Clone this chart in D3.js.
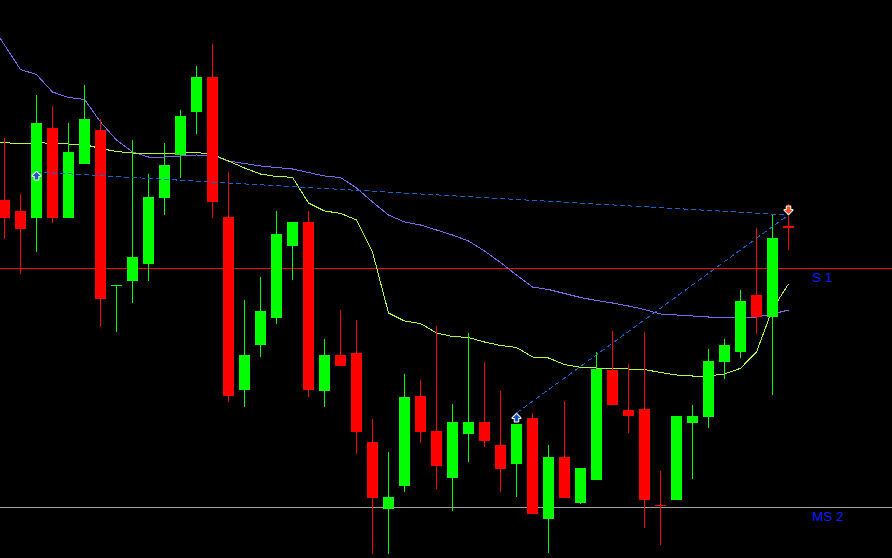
<!DOCTYPE html>
<html>
<head>
<meta charset="utf-8">
<script src="https://cdn.jsdelivr.net/npm/d3@7"></script>
<style>
  html, body { margin: 0; padding: 0; background: #000; overflow: hidden; }
  svg { display: block; }
</style>
</head>
<body>
<div id="container"></div>
<script>
// candlestick chart with two moving averages, two levels and a pattern drawn on top

// bar index -> open / high / low / close (price in chart points)
const opens  = [400, 389, 382, 472, 382, 436, 470, 314, 319, 336, 402, 445, 488, 523, 383, 210, 255, 282, 354, 378,
                209, 245, 247, 158,  91, 114, 204, 169, 122, 166, 178, 155, 136, 182,  81, 143,  97, 120, 230, 190,
                191, 95.5, 100, 177, 183, 238, 248, 305, 283, 374];
const highs  = [462, 406, 505, 494, 477, 515, 481, 315.5, 460, 426, 457, 490, 534, 556, 428, 300, 323, 389, 378, 389,
                261, 290, 280, 181, 148, 226, 220, 274, 196, 267, 238, 209, 176, 187, 155, 199, 132, 248, 269, 236,
                268, 129, 184, 195, 251, 261, 310, 372, 385, 396];
const lows   = [361, 326, 348, 377, 382, 436, 273, 268, 297, 319, 385, 422, 466, 382, 198, 193, 243, 276, 320, 203,
                193, 234, 146,  46,  46, 108, 157, 111,  89, 138, 153, 108, 103,  86,  47, 102,  96, 120, 195, 167,
                 72,  55, 100, 121, 172, 221, 242, 266, 205, 350];
const closes = [382, 371, 477, 382, 448, 481, 301, 315.5, 343, 403, 435, 484, 523, 398, 204, 245, 289, 366, 378, 210,
                245, 234, 168, 102, 103, 203, 168, 134, 178, 178, 159, 131, 176,  86, 143, 102, 132, 231, 195, 184,
                100, 94.5, 184, 184, 239, 255, 299, 283, 362, 373];

// moving averages, first value belongs to the bar just left of the window (index -1)
const maSlow = [580, 555, 530.5, 525.5, 508, 502.5, 500.5, 478, 460, 448, 443, 443, 444, 445, 444.5, 439, 436.5, 434, 432.5, 431,
                427.5, 424, 422.5, 412, 398, 385, 378, 375, 370, 365, 359, 349, 337.5, 325, 313, 310.5, 306.5, 302.5, 299.5, 297,
                294, 290.5, 286, 285, 284, 283, 283, 283, 283, 286, 290];
const maFast = [458, 457.5, 456, 457.5, 456.5, 456, 455.5, 451.5, 448.5, 447, 446, 446.5, 447, 447.5, 445.5, 439, 432, 426, 423.5, 422.7,
                397, 389, 386.7, 380, 348, 287, 279, 276.5, 267, 263.5, 262.5, 258, 254.5, 252.5, 243, 242, 235.5, 232.7, 232, 231.7,
                231, 230.5, 227.5, 225, 224, 224, 226, 231.7, 248, 291, 316];

// horizontal levels
const levelNames  = ["S 1", "MS 2"];
const levelPrices = [331.5, 92.5];
const levelColors = ["#ff0000", "#a0a0a0"];

// pattern points (bar index, price, direction) and the lines joining them
const signalBars   = [2, 32, 49];
const signalPrices = [424, 182, 390];
const signalDirs   = ["up", "up", "down"];
const trendLines   = [[2, 428, 49, 385], [32, 187, 49, 385]];

const width = 892,
      height = 558;

const x = d3.scaleLinear()
    .domain([0, 49])
    .range([4.5, 788.5]);

const y = d3.scaleLinear()
    .domain([42, 600])
    .range([558, 0]);

const svg = d3.select("#container").append("svg")
    .attr("width", width)
    .attr("height", height);

svg.append("rect")
    .attr("width", width)
    .attr("height", height)
    .attr("fill", "#000");

svg.append("clipPath").attr("id", "plot")
  .append("rect")
    .attr("width", width)
    .attr("height", height);

const plot = svg.append("g").attr("clip-path", "url(#plot)");

// level lines
plot.append("g").selectAll("line")
    .data(levelPrices)
    .enter().append("line")
    .attr("x1", 0)
    .attr("x2", width)
    .attr("y1", d => y(d))
    .attr("y2", d => y(d))
    .attr("stroke", (d, i) => levelColors[i])
    .attr("stroke-width", 1)
    .attr("shape-rendering", "crispEdges");

// moving averages
const maLine = d3.line()
    .x((d, i) => x(i - 1))
    .y(d => y(d));

plot.append("path")
    .datum(maSlow)
    .attr("d", maLine)
    .attr("fill", "none")
    .attr("stroke", "#7b68ee")
    .attr("stroke-width", 1)
    .attr("shape-rendering", "crispEdges");

plot.append("path")
    .datum(maFast)
    .attr("d", maLine)
    .attr("fill", "none")
    .attr("stroke", "#adff2f")
    .attr("stroke-width", 1)
    .attr("shape-rendering", "crispEdges");

// candles
const bars = d3.range(opens.length).map(i => ({
    i: i, o: opens[i], h: highs[i], l: lows[i], c: closes[i]
}));

const candle = plot.append("g").selectAll("g")
    .data(bars)
    .enter().append("g")
    .attr("shape-rendering", "crispEdges");

candle.append("rect")
    .attr("x", d => Math.floor(x(d.i)))
    .attr("width", 1)
    .attr("y", d => y(d.h))
    .attr("height", d => y(d.l) - y(d.h))
    .attr("fill", d => d.c >= d.o ? "#00ff00" : "#ff0000");

candle.append("rect")
    .attr("x", d => x(d.i) - 5.5)
    .attr("width", 11)
    .attr("y", d => y(Math.max(d.o, d.c)))
    .attr("height", d => Math.max(1.5, Math.abs(y(d.o) - y(d.c))))
    .attr("fill", d => d.c >= d.o ? "#00ff00" : "#ff0000");

// pattern lines
plot.append("g").selectAll("line")
    .data(trendLines)
    .enter().append("line")
    .attr("x1", d => x(d[0]))
    .attr("y1", d => y(d[1]))
    .attr("x2", d => x(d[2]))
    .attr("y2", d => y(d[3]))
    .attr("stroke", "#1464d2")
    .attr("stroke-width", 1)
    .attr("stroke-dasharray", "5,3")
    .attr("shape-rendering", "crispEdges");

// arrows
const arrow = "M0,-4L4,0L1.8,0L1.8,3.5L-1.8,3.5L-1.8,0L-4,0Z";

plot.append("g").selectAll("path")
    .data(signalBars)
    .enter().append("path")
    .attr("d", arrow)
    .attr("transform", (d, i) => "translate(" + x(d) + "," + y(signalPrices[i]) + ")" +
          (signalDirs[i] === "down" ? " rotate(180)" : ""))
    .attr("fill", (d, i) => signalDirs[i] === "down" ? "#ff4a1c" : "#1a58b4")
    .attr("stroke", "#ffffff")
    .attr("stroke-width", 2)
    .attr("stroke-linejoin", "round")
    .style("paint-order", "stroke");

// level labels
svg.append("g").selectAll("text")
    .data(levelNames)
    .enter().append("text")
    .attr("x", 812)
    .attr("y", (d, i) => y(levelPrices[i]) + 13.5)
    .attr("fill", "#0a1eff")
    .style("font-family", "'Liberation Sans', Arial, sans-serif")
    .style("font-size", "13.5px")
    .text(d => d);
</script>
</body>
</html>
